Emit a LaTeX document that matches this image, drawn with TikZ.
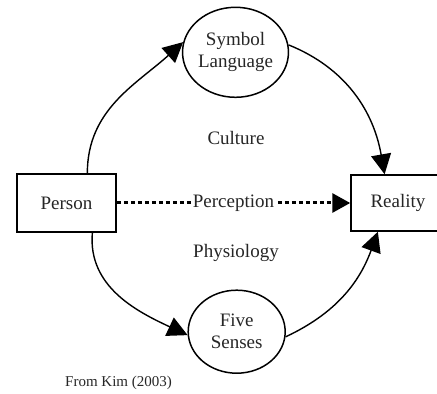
\documentclass[tikz,border=0pt]{standalone}
\usepackage{fontspec}
\setmainfont{Liberation Serif}
\usetikzlibrary{arrows.meta,shapes.geometric}
\begin{document}
\begin{tikzpicture}[x=1pt,y=1pt,
  txt/.style={font=\fontsize{19}{22}\selectfont, text=black!85},
  box/.style={txt, draw, line width=1.5pt, inner sep=0pt},
  oval/.style={txt, draw, ellipse, line width=1.5pt, inner sep=0pt, align=center},
  flow/.style={line width=1.4pt, -{Triangle[length=20pt,width=20pt]}},
  dotflow/.style={line width=3pt, dash pattern=on 4pt off 3pt, -{Triangle[length=18pt,width=19pt]}},
]
\clip (0,0) rectangle (437,394);
\fill[white] (0,0) rectangle (437,394);
\node[box, minimum width=99pt, minimum height=58pt] (person) at (66.5,191) {Person};
\node[box, minimum width=94pt, minimum height=56pt] (reality) at (398,191) {Reality};
\node[oval, minimum width=101pt, minimum height=90pt] (symbol) at (235.5,341.7) {Symbol\\Language};
\node[oval, minimum width=97pt, minimum height=83pt] (senses) at (236.7,62.3) {Five\\Senses};
\node[txt] (culture) at (236,256) {Culture};
\node[txt] (physio) at (236,141) {Physiology};
\node[font=\fontsize{15}{18}\selectfont, text=black!85] (source) at (118.5,11) {From Kim (2003)};
\draw[flow] (person.55) to[out=90, in=222] (symbol.169);
\draw[flow] (symbol.8) to[out=-22, in=100] (reality.115);
\draw[flow] (person.-49) to[out=-95, in=155] (senses.184);
\draw[flow] (senses.-6) to[out=25, in=-110] (reality.-125);
\draw[dotflow] (person.east) -- (reality.west)
  node[txt, midway, fill=white, inner xsep=1pt] (perc) {Perception};
\end{tikzpicture}
\end{document}
